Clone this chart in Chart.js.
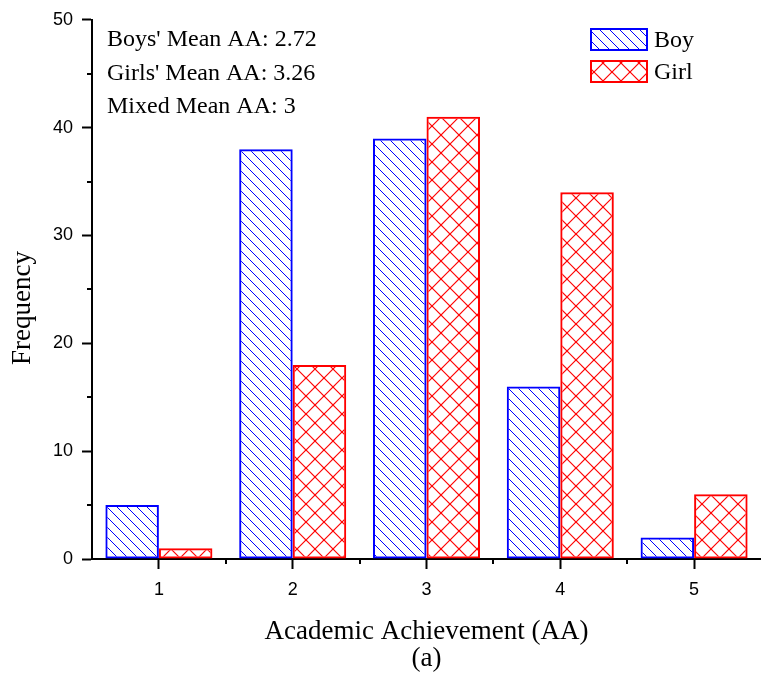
<!DOCTYPE html>
<html>
<head>
<meta charset="utf-8">
<script src="https://cdn.jsdelivr.net/npm/chart.js@4"></script>
<style>
  html, body { margin: 0; padding: 0; background: #fff; }
  #wrap { width: 761px; height: 683px; }
</style>
</head>
<body>
<div id="wrap"><canvas id="aaChart"></canvas></div>
<script>
// data
const categories = ['1', '2', '3', '4', '5'];
const boyCounts = [5, 38, 39, 16, 2];
const girlCounts = [1, 18, 41, 34, 6];
const notes = ["Boys' Mean AA: 2.72", "Girls' Mean AA: 3.26", 'Mixed Mean AA: 3'];
const yTitle = 'Frequency';

const SERIF = "'Liberation Serif', 'Times New Roman', serif";
const SANS = "'Liberation Sans', Arial, sans-serif";

// hatch fills
function diagPattern(color, size) {
    const c = document.createElement('canvas');
    c.width = size; c.height = size;
    const g = c.getContext('2d');
    g.strokeStyle = color;
    g.lineWidth = 1;
    for (const k of [-size, 0, size]) {
        g.beginPath(); g.moveTo(k, 0); g.lineTo(k + size, size); g.stroke();
    }
    return g.createPattern(c, 'repeat');
}

function crossPattern(color, size) {
    const c = document.createElement('canvas');
    c.width = size; c.height = size;
    const g = c.getContext('2d');
    g.strokeStyle = color;
    g.lineWidth = 1.2;
    for (const k of [-size, 0, size]) {
        g.beginPath(); g.moveTo(k, 0); g.lineTo(k + size, size); g.stroke();
        g.beginPath(); g.moveTo(k, size); g.lineTo(k + size, 0); g.stroke();
    }
    return g.createPattern(c, 'repeat');
}

const boyFill = diagPattern('#0000ff', 10);
const girlFill = crossPattern('#ff0000', 18);

// minor ticks, y title, notes and legend drawn on top
const extras = {
    id: 'extras',
    afterDraw(chart) {
        const ctx = chart.ctx;
        const x = chart.scales.x, y = chart.scales.y;
        ctx.save();
        ctx.strokeStyle = '#000';
        ctx.lineWidth = 2;
        // minor y ticks
        for (let v = 5; v < 50; v += 10) {
            const py = Math.round(y.getPixelForValue(v));
            ctx.beginPath(); ctx.moveTo(y.right - 5, py); ctx.lineTo(y.right, py); ctx.stroke();
        }
        // minor x ticks between categories
        for (let i = 0; i < categories.length - 1; i++) {
            const px = Math.round((x.getPixelForValue(i) + x.getPixelForValue(i + 1)) / 2);
            ctx.beginPath(); ctx.moveTo(px, x.top); ctx.lineTo(px, x.top + 5); ctx.stroke();
        }

        ctx.fillStyle = '#000';
        // y axis title (sits a bit below the axis middle in the original)
        ctx.save();
        ctx.font = '27px ' + SERIF;
        ctx.textAlign = 'center';
        ctx.textBaseline = 'middle';
        ctx.translate(23, 308);
        ctx.rotate(-Math.PI / 2);
        ctx.fillText(yTitle, 0, 0);
        ctx.restore();

        // notes
        ctx.font = '24px ' + SERIF;
        ctx.textAlign = 'left';
        ctx.textBaseline = 'alphabetic';
        notes.forEach((t, i) => ctx.fillText(t, chart.chartArea.left + 15, 46 + i * 33.5));

        // legend
        const ds = chart.data.datasets;
        ds.forEach((d, i) => {
            const bx = 591, by = 29 + i * 32;
            ctx.fillStyle = d.backgroundColor;
            ctx.fillRect(bx, by, 56, 21);
            ctx.strokeStyle = d.borderColor;
            ctx.lineWidth = 2;
            ctx.strokeRect(bx, by, 56, 21);
            ctx.fillStyle = '#000';
            ctx.fillText(d.label, bx + 63, by + 18);
        });
        ctx.restore();
    }
};

new Chart(document.getElementById('aaChart'), {
    type: 'bar',
    data: {
        labels: categories,
        datasets: [{
            label: 'Boy',
            data: boyCounts,
            backgroundColor: boyFill,
            borderColor: '#0000ff',
            borderWidth: 2,
            borderSkipped: false
        }, {
            label: 'Girl',
            data: girlCounts,
            backgroundColor: girlFill,
            borderColor: '#ff0000',
            borderWidth: 2,
            borderSkipped: false
        }]
    },
    options: {
        responsive: true,
        maintainAspectRatio: false,
        animation: false,
        barPercentage: 1.0,
        categoryPercentage: 0.8,
        layout: { padding: { top: 19, right: 0, left: 0, bottom: 0 } },
        plugins: {
            legend: { display: false },
            tooltip: { enabled: false },
            title: {
                display: true,
                position: 'bottom',
                fullSize: false,
                text: '(a)',
                color: '#000',
                font: { family: SERIF, size: 27, weight: 'normal', lineHeight: 1 },
                padding: { top: 0, bottom: 10.5 }
            }
        },
        scales: {
            x: {
                grid: {
                    offset: false,
                    drawOnChartArea: false,
                    tickLength: 10,
                    tickWidth: 2,
                    tickColor: '#000'
                },
                border: { display: true, color: '#000', width: 2 },
                ticks: {
                    color: '#000',
                    padding: 10,
                    font: { family: SANS, size: 18 }
                },
                title: {
                    display: true,
                    text: 'Academic Achievement (AA)',
                    color: '#000',
                    font: { family: SERIF, size: 27, lineHeight: 1 },
                    padding: { top: 0, bottom: 0 }
                },
                afterFit(s) { s.height = 86.5; }
            },
            y: {
                min: 0,
                max: 50,
                grid: {
                    drawOnChartArea: false,
                    tickLength: 10,
                    tickWidth: 2,
                    tickColor: '#000'
                },
                border: { display: true, color: '#000', width: 2 },
                ticks: {
                    stepSize: 10,
                    color: '#000',
                    padding: 9,
                    font: { family: SANS, size: 18 }
                },
                title: { display: false },
                afterFit(s) { s.width = 92; }
            }
        }
    },
    plugins: [extras]
});
</script>
</body>
</html>
